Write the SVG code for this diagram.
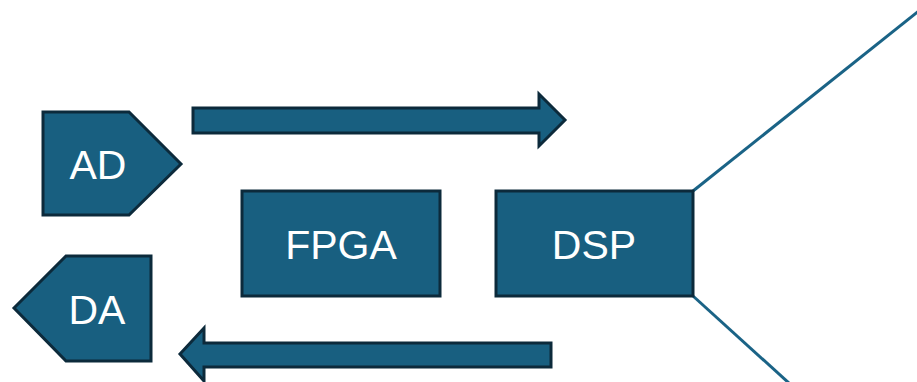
<svg xmlns="http://www.w3.org/2000/svg" width="917" height="382" viewBox="0 0 917 382">
  <style>
    .shape { fill: #185f80; stroke: #0c2a3b; stroke-width: 3; stroke-linejoin: miter; }
    .label { fill: #ffffff; font-family: "Liberation Sans", Arial, sans-serif; font-size: 41px; text-anchor: middle; }
    .wire { stroke: #1a6386; stroke-width: 3; fill: none; }
  </style>
  <rect width="917" height="382" fill="#ffffff"/>
  <g id="connectors">
    <line class="wire" x1="693" y1="191" x2="920" y2="10"/>
    <line class="wire" x1="693" y1="296" x2="790" y2="384"/>
    <polygon id="arrow-out" class="shape" points="193,108 539,108 539,94 565,120 539,146 539,133 193,133"/>
    <polygon id="arrow-in" class="shape" points="551,343 204,343 204,328 180,354 204,381 204,367 551,367"/>
  </g>
  <g id="ad">
    <polygon class="shape" points="43,112 129,112 181,164 129,215 43,215"/>
    <text class="label" x="98" y="179">AD</text>
  </g>
  <g id="da">
    <polygon class="shape" points="14,308 66,256 151,256 151,361 66,361"/>
    <text class="label" x="97" y="324">DA</text>
  </g>
  <g id="fpga">
    <rect class="shape" x="242" y="191" width="198" height="105"/>
    <text class="label" x="341" y="259">FPGA</text>
  </g>
  <g id="dsp">
    <rect class="shape" x="496" y="191" width="197" height="105"/>
    <text class="label" x="594" y="259">DSP</text>
  </g>
</svg>
